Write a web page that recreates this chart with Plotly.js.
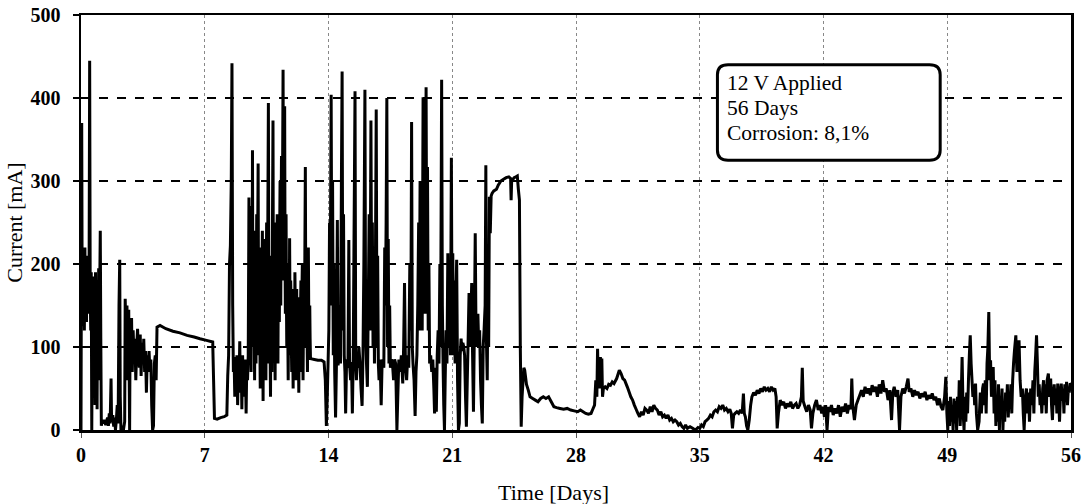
<!DOCTYPE html>
<html>
<head>
<meta charset="utf-8">
<script src="https://cdn.plot.ly/plotly-3.0.1.min.js"></script>
<style>html,body{margin:0;padding:0;background:#fff;}#chart{width:1084px;height:504px;}</style>
</head>
<body>
<div id="chart"></div>
<script>
// [day, current mA] readings, grouped by time span
const days0to4 = [[0.00,0],[0.04,370],[0.07,125],[0.10,215],[0.13,140],[0.16,205],[0.19,120],[0.22,220],[0.25,150],[0.28,195],[0.31,130],[0.34,210],[0.37,160],[0.40,185],[0.43,140],[0.46,200],[0.49,445],[0.52,170],[0.55,120],[0.58,190],[0.61,0],[0.64,150],[0.67,60],[0.70,185],[0.73,110],[0.76,175],[0.79,30],[0.82,190],[0.85,90],[0.88,160],[0.91,25],[0.94,180],[0.97,120],[1.00,195],[1.03,60],[1.06,170],[1.09,240],[1.12,110],[1.15,5],[1.18,10],
 [1.22,8],[1.30,12],[1.40,6],[1.50,15],[1.55,5],[1.60,20],[1.65,8],[1.70,62],[1.73,10],[1.80,18],[1.85,4],[1.90,15],[1.95,0],[2.00,12],[2.05,30],[2.10,8],[2.15,150],[2.19,205],[2.22,40],[2.26,0],[2.30,5],[2.35,0],[2.40,0],[2.47,10],
 [2.50,158],[2.55,100],[2.60,150],[2.65,60],[2.70,145],[2.75,0],[2.78,130],[2.82,80],[2.86,135],[2.90,70],[2.95,120],[3.00,85],[3.05,110],[3.10,60],[3.15,100],[3.20,122],[3.25,90],[3.30,75],[3.35,115],[3.40,65],[3.45,105],[3.50,80],[3.55,110],[3.60,70],[3.65,95],[3.70,45],[3.75,90],[3.80,75],[3.85,95],[3.90,70],[3.95,85],[4.00,30],[4.05,0],[4.10,5],[4.15,80],[4.20,90],[4.25,60]];

const days4to9 = [[4.30,124],[4.47,126],[4.80,122],[5.20,119],[5.60,117],[6.00,114],[6.40,112],[6.73,110],[7.10,108],[7.45,106],[7.50,60],[7.55,14],[7.70,13],[7.90,15],[8.10,16],[8.25,18],
 [8.30,65],[8.35,90],[8.40,200],[8.45,222],[8.50,300],[8.54,442],[8.58,150],[8.62,70],[8.66,85],[8.70,40],[8.74,88],[8.78,60],[8.82,90],[8.86,30],[8.90,80],[8.94,55],[8.98,107],[9.02,45],[9.06,85],[9.10,25],[9.14,90],[9.18,60],[9.22,85],[9.26,40],[9.30,75],[9.34,20],[9.38,85],[9.42,60],[9.46,90]];

const days9to13 = [[9.50,280],[9.52,120],[9.54,90],[9.56,200],[9.58,230],[9.60,110],[9.62,70],[9.64,180],[9.66,270],[9.68,150],[9.70,337],[9.72,180],[9.74,100],[9.76,210],[9.78,240],[9.80,130],[9.82,60],[9.84,150],[9.86,200],[9.88,110],[9.90,80],[9.92,190],[9.94,260],[9.96,140],[9.98,120],[10.00,250],[10.02,321],[10.04,160],[10.06,90],[10.08,170],[10.10,220],[10.12,100],[10.14,50],[10.16,140],[10.18,180],[10.20,120],[10.22,70],[10.24,190],[10.26,240],[10.28,110],[10.30,35],[10.32,150],[10.34,200],[10.36,130],[10.38,90],[10.40,180],[10.42,230],[10.44,120],[10.46,60],[10.48,170],[10.50,250],[10.52,140],[10.54,80],[10.57,260],[10.60,394],[10.62,200],[10.64,100],[10.66,160],[10.68,190],[10.70,90],[10.72,40],[10.74,150],[10.76,210],[10.78,120],[10.80,70],[10.83,250],[10.86,373],[10.88,180],[10.90,90],[10.92,200],[10.94,250],[10.96,120],[10.98,60],[11.00,150],[11.02,200],[11.04,140],[11.06,110],[11.08,210],[11.10,260],[11.12,150],[11.14,80],[11.16,180],[11.18,220],[11.20,160],[11.22,130],[11.24,240],[11.26,300],[11.28,190],[11.30,150],[11.32,260],[11.34,330],[11.36,220],[11.38,180],[11.40,300],[11.43,434],[11.45,280],[11.47,200],[11.50,330],[11.52,390],[11.54,220],[11.56,140],[11.58,210],[11.60,260],[11.62,160],[11.64,100],[11.66,170],[11.68,200],[11.70,110],[11.72,60],[11.74,130],[11.76,170],[11.78,120],[11.80,231],[11.82,150],[11.84,90],[11.86,180],[11.88,160],[11.90,100],[11.92,70],[11.94,170],[11.96,140],[11.98,90],[12.00,50],[12.02,150],[12.04,130],[12.06,100],[12.08,80],[12.10,190],[12.12,150],[12.14,100],[12.16,60],[12.18,140],[12.20,170],[12.22,120],[12.24,90],[12.26,160],[12.28,140],[12.30,90],[12.32,45],[12.34,110],[12.36,130],[12.38,100],[12.40,70],[12.42,150],[12.44,180],[12.46,120],[12.48,90],[12.50,170],[12.52,200],[12.54,110],[12.56,60],[12.58,120],[12.60,150],[12.62,130],[12.64,100],[12.66,200],[12.69,317],[12.71,190],[12.73,120],[12.75,160],[12.77,180],[12.79,110],[12.81,70],[12.84,180],[12.86,220],[12.88,150],[12.90,100],[12.92,120],[12.94,150],[12.96,110],[12.98,86]];

const days13to21 = [[13.20,85],[13.40,84],[13.60,84],[13.75,82],[13.82,60],[13.88,5],[13.93,40],[13.98,85],[14.02,120],[14.06,250],[14.10,180],[14.15,404],[14.19,150],[14.23,300],[14.27,90],[14.31,200],[14.35,70],[14.40,15],[14.45,80],[14.50,253],[14.54,78],[14.60,90],[14.64,150],[14.68,80],[14.73,300],[14.77,432],[14.81,120],[14.85,260],[14.89,90],[14.93,70],[14.97,20],[15.02,80],[15.06,85],[15.10,75],[15.15,229],[15.19,80],[15.25,60],[15.30,82],[15.35,20],[15.40,90],[15.45,250],[15.50,408],[15.54,80],[15.58,60],[15.62,85],[15.67,75],[15.72,100],[15.78,80],[15.84,50],[15.90,29],[15.95,90],[16.00,200],[16.06,410],[16.10,120],[16.15,80],[16.20,52],[16.25,150],[16.30,260],[16.35,120],[16.40,373],[16.44,150],[16.48,250],[16.52,100],[16.56,200],[16.60,80],[16.65,180],[16.70,386],[16.74,100],[16.78,210],[16.82,80],[16.86,60],[16.92,85],[16.98,30],[17.03,80],[17.08,85],[17.13,75],[17.18,220],[17.22,150],[17.26,250],[17.30,400],[17.34,100],[17.38,230],[17.42,80],[17.46,150],[17.50,75],[17.56,85],[17.62,80],[17.68,60],[17.74,85],[17.80,80],[17.87,0],[17.92,40],[17.98,85],[18.05,70],[18.12,90],[18.20,56],[18.25,100],[18.30,177],[18.35,80],[18.42,60],[18.48,90],[18.54,75],[18.60,200],[18.66,120],[18.70,371],[18.74,100],[18.78,80],[18.84,60],[18.90,17],[18.95,70],[19.00,90],[19.05,150],[19.10,250],[19.14,120],[19.18,300],[19.22,150],[19.26,230],[19.30,120],[19.35,401],[19.39,170],[19.43,300],[19.47,140],[19.52,413],[19.56,150],[19.60,317],[19.64,120],[19.68,200],[19.72,80],[19.78,90],[19.84,70],[19.90,85],[19.96,50],[20.00,20],[20.05,75],[20.10,22],[20.15,90],[20.20,120],[20.25,80],[20.30,200],[20.34,100],[20.40,422],[20.44,150],[20.48,80],[20.52,30],[20.56,0],[20.60,60],[20.65,120],[20.70,80],[20.75,213],[20.80,100],[20.85,180],[20.90,90],[20.95,328],[20.99,120],[21.03,213],[21.07,90],[21.12,180],[21.16,80],[21.20,150],[21.25,205],[21.30,60],[21.35,0],[21.40,8]];

const days21to29 = [[21.45,90],[21.50,110],[21.55,95],[21.60,105],[21.65,100],[21.70,90],[21.75,40],[21.80,4],[21.85,60],[21.90,110],[21.95,165],[22.00,100],[22.05,130],[22.10,177],[22.15,90],[22.20,22],[22.25,120],[22.30,237],[22.35,100],[22.40,117],[22.45,140],[22.50,100],[22.55,120],[22.60,60],[22.65,30],[22.70,8],[22.75,100],[22.80,120],[22.86,150],[22.90,319],[22.94,100],[22.98,60],[23.02,180],[23.06,100],[23.10,281],[23.15,237],[23.20,282],[23.25,285],[23.35,288],[23.50,290],[23.60,295],[23.75,300],[23.90,302],[24.05,304],[24.20,305],[24.30,303],[24.33,277],[24.36,300],[24.50,304],[24.60,305],[24.68,306],[24.74,290],[24.80,277],[24.85,100],[24.90,4],[24.95,40],[25.05,75],[25.10,72],[25.20,55],[25.30,48],[25.40,40],[25.55,38],[25.70,36],[25.85,34],[26.00,38],[26.15,40],[26.30,38],[26.45,40],[26.60,34],[26.75,28],[26.90,27],[27.10,26],[27.30,25],[27.50,26],[27.70,24],[27.90,23],[28.10,22],[28.25,24],[28.40,22],[28.55,20],[28.70,19],[28.85,20],[28.95,25]];

const days29to42 = [[29.05,30],[29.12,60],[29.18,40],[29.22,98],[29.26,60],[29.30,85],[29.34,50],[29.38,88],[29.42,60],[29.46,86],[29.50,40],[29.55,50],[29.65,52],[29.75,50],[29.85,55],[29.95,54],[30.05,58],[30.15,56],[30.30,62],[30.45,72],[30.55,68],[30.65,62],[30.75,60],[30.90,52],[31.00,46],[31.10,40],[31.20,36],[31.30,30],[31.40,25],[31.50,20],[31.60,16],[31.70,22],[31.80,18],[31.90,26],[32.00,24],[32.10,20],[32.20,28],[32.30,22],[32.40,30],[32.50,26],[32.60,24],[32.70,18],[32.80,22],[32.90,16],[33.00,18],[33.10,14],[33.20,18],[33.30,12],[33.40,14],[33.50,10],[33.60,12],[33.70,10],[33.80,6],[33.90,8],[34.00,4],[34.10,2],[34.20,6],[34.30,2],[34.45,4],[34.60,2],[34.75,0],[34.90,3],[35.00,2],[35.10,6],[35.20,4],[35.30,10],[35.40,12],[35.50,14],[35.60,18],[35.70,16],[35.80,22],[35.90,24],[36.00,22],[36.10,28],[36.20,26],[36.30,30],[36.40,24],[36.50,26],[36.60,22],[36.70,25],[36.78,20],[36.85,2],[36.92,18],[37.00,20],[37.10,22],[37.20,20],[37.30,24],[37.40,20],[37.47,44],[37.52,20],[37.58,16],[37.65,5],[37.72,0],[37.80,12],[37.88,30],[37.95,40],[38.05,45],[38.15,42],[38.25,48],[38.35,44],[38.45,50],[38.55,46],[38.65,52],[38.75,48],[38.85,50],[38.95,46],[39.05,52],[39.15,48],[39.25,50],[39.32,40],[39.38,2],[39.45,20],[39.55,36],[39.65,30],[39.75,34],[39.85,26],[39.95,32],[40.05,28],[40.15,34],[40.25,26],[40.35,30],[40.45,32],[40.55,26],[40.65,30],[40.75,40],[40.80,75],[40.85,35],[40.95,28],[41.05,22],[41.15,30],[41.25,24],[41.32,2],[41.40,20],[41.50,30],[41.60,36],[41.70,24],[41.80,30],[41.90,20],[41.97,28]];

const days42to49 = [[42.05,16],[42.12,30],[42.20,0],[42.28,28],[42.35,22],[42.45,30],[42.55,18],[42.65,26],[42.75,20],[42.85,30],[42.95,16],[43.05,28],[43.15,22],[43.25,32],[43.35,20],[43.45,30],[43.55,25],[43.60,62],[43.65,30],[43.75,12],[43.85,30],[43.95,36],[44.05,42],[44.15,48],[44.25,40],[44.35,52],[44.45,44],[44.55,50],[44.65,42],[44.75,54],[44.85,46],[44.95,52],[45.05,40],[45.15,55],[45.25,44],[45.35,60],[45.45,46],[45.55,50],[45.65,36],[45.75,48],[45.85,12],[45.92,45],[46.00,52],[46.10,40],[46.20,48],[46.30,0],[46.38,40],[46.48,50],[46.58,44],[46.68,52],[46.78,62],[46.85,46],[46.95,50],[47.05,40],[47.15,48],[47.25,42],[47.35,46],[47.45,38],[47.55,44],[47.65,40],[47.75,46],[47.85,36],[47.95,42],[48.05,38],[48.15,44],[48.25,36],[48.35,40],[48.45,30],[48.55,38],[48.65,28],[48.75,24],[48.85,40],[48.92,64],[48.98,20]];

const days49to56 = [[49.03,0],[49.08,35],[49.13,5],[49.18,40],[49.23,10],[49.28,30],[49.33,0],[49.38,38],[49.43,8],[49.48,35],[49.53,0],[49.58,40],[49.63,15],[49.68,60],[49.73,5],[49.78,30],[49.84,88],[49.90,20],[49.95,0],[50.00,40],[50.05,10],[50.10,45],[50.15,20],[50.20,60],[50.25,90],[50.30,114],[50.35,80],[50.40,60],[50.45,40],[50.50,55],[50.55,30],[50.60,56],[50.65,20],[50.72,0],[50.80,10],[50.87,45],[50.93,20],[51.00,50],[51.05,56],[51.10,30],[51.15,60],[51.20,20],[51.25,80],[51.30,100],[51.35,142],[51.40,60],[51.45,84],[51.50,40],[51.55,50],[51.60,76],[51.65,20],[51.70,60],[51.75,5],[51.80,40],[51.85,10],[51.90,55],[51.95,0],[52.00,40],[52.05,20],[52.10,50],[52.15,0],[52.20,35],[52.25,10],[52.30,45],[52.35,25],[52.40,55],[52.45,15],[52.50,40],[52.55,30],[52.60,55],[52.65,20],[52.70,60],[52.75,80],[52.80,95],[52.88,114],[52.94,70],[53.00,90],[53.06,108],[53.12,60],[53.18,40],[53.25,50],[53.30,20],[53.35,0],[53.42,40],[53.48,50],[53.55,20],[53.60,45],[53.65,10],[53.72,50],[53.78,30],[53.85,60],[53.90,20],[53.95,70],[54.00,90],[54.05,114],[54.10,80],[54.15,40],[54.20,55],[54.25,30],[54.30,44],[54.35,20],[54.40,50],[54.45,60],[54.50,30],[54.55,55],[54.60,20],[54.65,60],[54.72,68],[54.78,40],[54.85,62],[54.90,30],[54.95,12],[55.00,40],[55.05,55],[55.10,30],[55.15,50],[55.20,20],[55.25,56],[55.30,45],[55.35,10],[55.40,40],[55.45,56],[55.50,35],[55.55,50],[55.60,20],[55.65,55],[55.70,40],[55.75,58],[55.80,30],[55.85,50],[55.90,45],[55.95,56],[56.00,55]];

const xTickVals = [0, 7, 14, 21, 28, 35, 42, 49, 56];
const yTickVals = [0, 100, 200, 300, 400, 500];
const boxLines = ["12 V Applied", "56 Days", "Corrosion: 8,1%"];
const xTitle = "Time [Days]";
const yTitle = "Current [mA]";

const all = [].concat(days0to4, days4to9, days9to13, days13to21, days21to29, days29to42, days42to49, days49to56);
const xs = all.map(p => p[0]);
const ys = all.map(p => p[1]);

const serif = "Liberation Serif, Times New Roman, serif";

const trace = {
  x: xs, y: ys, type: 'scatter', mode: 'lines',
  line: {color: '#000', width: 3, simplify: false},
  hoverinfo: 'skip', showlegend: false
};

// annotation line positions inside the box (mA units on the y axis)
const boxLineY = [418, 388, 358];

const annotations = boxLines.map((t, i) => ({
  xref: 'x', yref: 'y', x: 36.45, y: boxLineY[i], xanchor: 'left', yanchor: 'middle',
  align: 'left', showarrow: false, text: t,
  font: {family: serif, size: 21.5, color: '#000'}
}));
annotations.push({
  xref: 'paper', yref: 'paper', x: 0.477, y: -0.15, xanchor: 'center', yanchor: 'middle',
  showarrow: false, text: xTitle, font: {family: serif, size: 22, color: '#000'}
});

const layout = {
  width: 1084, height: 504,
  margin: {l: 81, r: 13, t: 15, b: 74},
  paper_bgcolor: '#fff', plot_bgcolor: '#fff',
  font: {family: serif, color: '#000'},
  xaxis: {
    range: [0, 56], tickvals: xTickVals, ticktext: xTickVals.map(String),
    showgrid: true, gridcolor: '#888', griddash: 'dot', gridwidth: 1,
    showline: true, linecolor: '#000', linewidth: 2.5, mirror: true,
    ticks: 'outside', ticklen: 5, tickcolor: '#555', tickwidth: 1,
    tickfont: {family: serif, size: 20, weight: 'bold', color: '#000'},
    zeroline: false
  },
  yaxis: {
    range: [0, 500], tickvals: yTickVals, ticktext: yTickVals.map(String),
    showgrid: true, gridcolor: '#000', griddash: 'dash', gridwidth: 1.3,
    showline: true, linecolor: '#000', linewidth: 2.5, mirror: true,
    ticks: 'outside', ticklen: 6, tickcolor: '#000', tickwidth: 1.5,
    ticklabelstandoff: 8,
    tickfont: {family: serif, size: 20, weight: 'bold', color: '#000'},
    zeroline: false,
    title: {text: yTitle, font: {family: serif, size: 22, color: '#000'}, standoff: 2}
  },
  shapes: [{
    type: 'path', xref: 'x', yref: 'y', layer: 'above',
    path: 'M 36.6,440 L 48.0,440 Q 48.6,440 48.6,428 L 48.6,337 Q 48.6,325 48.0,325 L 36.6,325 Q 36.0,325 36.0,337 L 36.0,428 Q 36.0,440 36.6,440 Z',
    fillcolor: '#fff', line: {color: '#000', width: 3}
  }],
  annotations: annotations
};

Plotly.newPlot('chart', [trace], layout, {staticPlot: true, displayModeBar: false});
</script>
</body>
</html>
